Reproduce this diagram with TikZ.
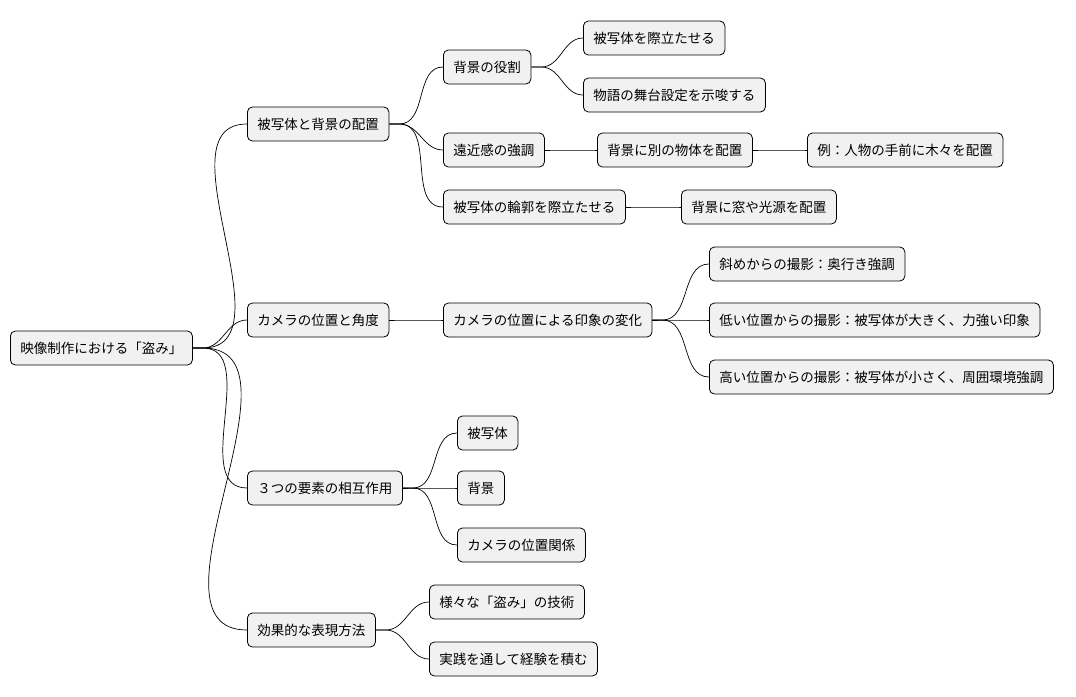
\documentclass[tikz,border=0pt]{standalone}
\usepackage{fontspec}
\newfontfamily\cjk{Noto Sans CJK JP}
\begin{document}
\begin{tikzpicture}[x=1pt,y=-1pt,
  mm/.style={draw=black,fill=black!5.5,rounded corners=5pt,minimum height=34pt,inner xsep=10pt,anchor=west,font=\cjk\fontsize{13.5}{15}\selectfont,line width=0.8pt},
  ln/.style={line width=0.7pt}]
\useasboundingbox (0,0) rectangle (1076,696);
\node[mm] (r) at (10,348) {映像制作における「盗み」};
\node[mm] (a) at (247,124) {被写体と背景の配置};
\node[mm] (b) at (247,320) {カメラの位置と角度};
\node[mm] (c) at (247,488) {３つの要素の相互作用};
\node[mm] (d) at (247,630) {効果的な表現方法};
\node[mm] (a1) at (443,67) {背景の役割};
\node[mm] (a2) at (443,150) {遠近感の強調};
\node[mm] (a3) at (443,207) {被写体の輪郭を際立たせる};
\node[mm] (a11) at (583,38) {被写体を際立たせる};
\node[mm] (a12) at (583,95) {物語の舞台設定を示唆する};
\node[mm] (a21) at (597,150) {背景に別の物体を配置};
\node[mm] (a211) at (807,150) {例：人物の手前に木々を配置};
\node[mm] (a31) at (681,207) {背景に窓や光源を配置};
\node[mm] (b1) at (443,320) {カメラの位置による印象の変化};
\node[mm] (b11) at (709,264) {斜めからの撮影：奥行き強調};
\node[mm] (b12) at (709,320) {低い位置からの撮影：被写体が大きく、力強い印象};
\node[mm] (b13) at (709,377) {高い位置からの撮影：被写体が小さく、周囲環境強調};
\node[mm] (c1) at (457,433) {被写体};
\node[mm] (c2) at (457,488) {背景};
\node[mm] (c3) at (457,545) {カメラの位置関係};
\node[mm] (d1) at (429,602) {様々な「盗み」の技術};
\node[mm] (d2) at (429,659) {実践を通して経験を積む};
\foreach \p/\c in {r/a,r/b,r/c,r/d,a/a1,a/a2,a/a3,a1/a11,a1/a12,a2/a21,a21/a211,a3/a31,b/b1,b1/b11,b1/b12,b1/b13,c/c1,c/c2,c/c3,d/d1,d/d2}
  \draw[ln] (\p.east) -- ++(10,0) to[out=0,in=180] (\c.west);
\end{tikzpicture}
\end{document}
